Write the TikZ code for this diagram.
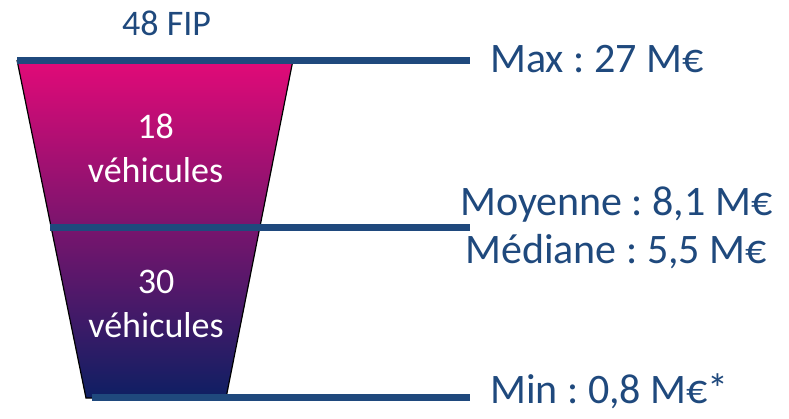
\documentclass[tikz,border=0pt]{standalone}
\usepackage{fontspec}
\setmainfont{Carlito}
\frenchspacing
\definecolor{lineblue}{HTML}{1F497D}
\definecolor{magtop}{HTML}{E20A78}
\definecolor{purpmid}{HTML}{7A1466}
\definecolor{navybot}{HTML}{0E1F63}
\begin{document}
\begin{tikzpicture}[x=1pt,y=-1pt,
  levelline/.style={draw=lineblue,line width=7pt},
  lbl/.style={text=lineblue,font=\fontsize{42}{50}\selectfont,anchor=base west,inner sep=0pt},
  inlbl/.style={text=white,font=\fontsize{36}{44}\selectfont,anchor=base,inner sep=0pt}]
\useasboundingbox (0,0) rectangle (789,418);
% funnel
\coordinate (tl) at (17,60);
\coordinate (tr) at (293,60);
\coordinate (br) at (226,398);
\coordinate (bl) at (86,398);
\path[top color=magtop,middle color=purpmid,bottom color=navybot] (tl) -- (tr) -- (br) -- (bl) -- cycle;
\draw[black,line width=1.2pt] (tl) -- (bl) -- (br) -- (tr);
% level lines
\coordinate (l1a) at (17,60);  \coordinate (l1b) at (470,60);
\coordinate (l2a) at (50,227); \coordinate (l2b) at (470,227);
\coordinate (l3a) at (92,397); \coordinate (l3b) at (470,397);
\draw[levelline] (l1a) -- (l1b);
\draw[levelline] (l2a) -- (l2b);
\draw[levelline] (l3a) -- (l3b);
% labels
\node[inlbl,text=lineblue,anchor=base west] (fip) at (122,35) {48 FIP};
\node[lbl] (max) at (490,72) {Max : 27 M€};
\node[lbl] (moy) at (460,215) {Moyenne : 8,1 M€};
\node[lbl] (med) at (465,263) {Médiane : 5,5 M€};
\node[lbl] (min) at (490,403) {Min : 0,8 M€*};
\node[inlbl] (n18) at (155.5,138) {18};
\node[inlbl] (v18) at (155.5,182) {véhicules};
\node[inlbl] (n30) at (156,293) {30};
\node[inlbl] (v30) at (156,337) {véhicules};
\end{tikzpicture}
\end{document}
